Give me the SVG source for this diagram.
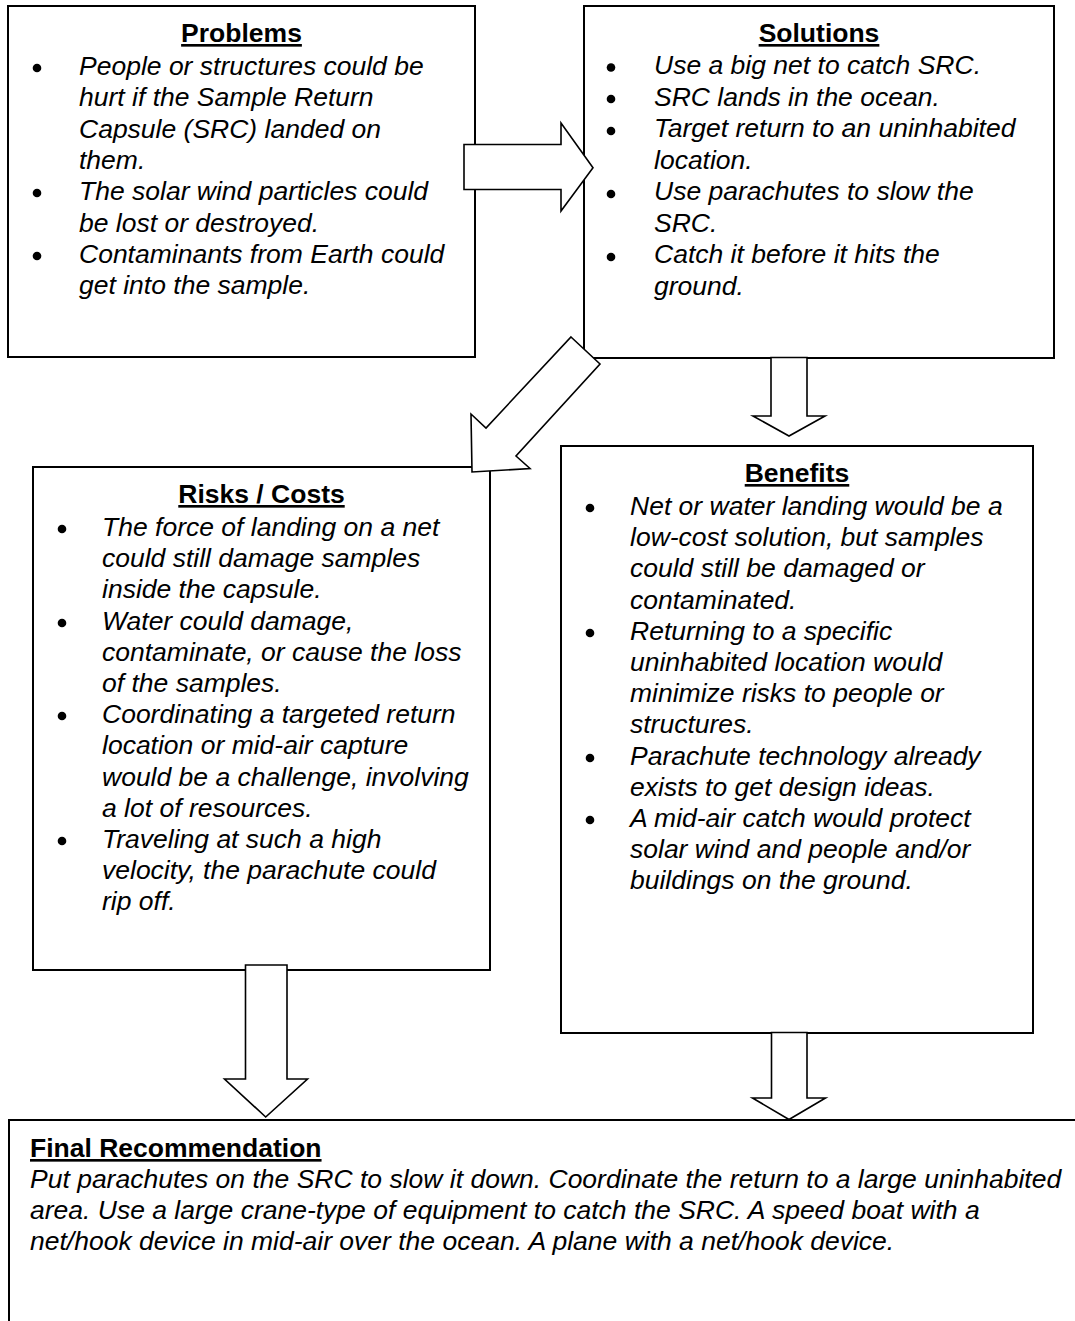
<svg xmlns="http://www.w3.org/2000/svg" width="1075" height="1321" viewBox="0 0 1075 1321">
<style>
.box{fill:#fff;stroke:#000;stroke-width:2}
.arr{fill:#fff;stroke:#000;stroke-width:1.6;stroke-linejoin:miter}
.t{font-family:"Liberation Sans",Arial,sans-serif;font-size:26.5px;font-style:italic;fill:#000}
.h{font-family:"Liberation Sans",Arial,sans-serif;font-size:26.5px;font-weight:bold;fill:#000;text-decoration:underline}
.c{text-anchor:middle}
.b{fill:#000}
</style>
<rect width="1075" height="1321" fill="#fff"/>
<g id="problems">
<rect class="box" x="8" y="6" width="467" height="351"/>
<text class="h c" x="241.5" y="42">Problems</text>
<circle class="b" cx="37" cy="68" r="4.3"/>
<circle class="b" cx="37" cy="193" r="4.3"/>
<circle class="b" cx="37" cy="256" r="4.3"/>
<text class="t" x="79" y="75">People or structures could be</text>
<text class="t" x="79" y="106.3">hurt if the Sample Return</text>
<text class="t" x="79" y="137.6">Capsule (SRC) landed on</text>
<text class="t" x="79" y="168.9">them.</text>
<text class="t" x="79" y="200.2">The solar wind particles could</text>
<text class="t" x="79" y="231.5">be lost or destroyed.</text>
<text class="t" x="79" y="262.8">Contaminants from Earth could</text>
<text class="t" x="79" y="294.1">get into the sample.</text>
</g>
<g id="solutions">
<rect class="box" x="584" y="6" width="470" height="352"/>
<text class="h c" x="819" y="42">Solutions</text>
<circle class="b" cx="611" cy="67.5" r="4.3"/>
<circle class="b" cx="611" cy="99" r="4.3"/>
<circle class="b" cx="611" cy="131" r="4.3"/>
<circle class="b" cx="611" cy="194" r="4.3"/>
<circle class="b" cx="611" cy="257" r="4.3"/>
<text class="t" x="654" y="74">Use a big net to catch SRC.</text>
<text class="t" x="654" y="105.5">SRC lands in the ocean.</text>
<text class="t" x="654" y="137">Target return to an uninhabited</text>
<text class="t" x="654" y="168.5">location.</text>
<text class="t" x="654" y="200">Use parachutes to slow the</text>
<text class="t" x="654" y="231.5">SRC.</text>
<text class="t" x="654" y="263">Catch it before it hits the</text>
<text class="t" x="654" y="294.5">ground.</text>
</g>
<g id="risks">
<rect class="box" x="33" y="467" width="457" height="503"/>
<text class="h c" x="261.5" y="503">Risks / Costs</text>
<circle class="b" cx="62" cy="529" r="4.3"/>
<circle class="b" cx="62" cy="623" r="4.3"/>
<circle class="b" cx="62" cy="716" r="4.3"/>
<circle class="b" cx="62" cy="841" r="4.3"/>
<text class="t" x="102" y="536">The force of landing on a net</text>
<text class="t" x="102" y="567.2">could still damage samples</text>
<text class="t" x="102" y="598.4">inside the capsule.</text>
<text class="t" x="102" y="629.6">Water could damage,</text>
<text class="t" x="102" y="660.8">contaminate, or cause the loss</text>
<text class="t" x="102" y="692">of the samples.</text>
<text class="t" x="102" y="723.2">Coordinating a targeted return</text>
<text class="t" x="102" y="754.4">location or mid-air capture</text>
<text class="t" x="102" y="785.6">would be a challenge, involving</text>
<text class="t" x="102" y="816.8">a lot of resources.</text>
<text class="t" x="102" y="848">Traveling at such a high</text>
<text class="t" x="102" y="879.2">velocity, the parachute could</text>
<text class="t" x="102" y="910.4">rip off.</text>
</g>
<g id="benefits">
<rect class="box" x="561" y="446" width="472" height="587"/>
<text class="h c" x="797" y="482">Benefits</text>
<circle class="b" cx="590" cy="508" r="4.3"/>
<circle class="b" cx="590" cy="633" r="4.3"/>
<circle class="b" cx="590" cy="758" r="4.3"/>
<circle class="b" cx="590" cy="820" r="4.3"/>
<text class="t" x="630" y="515">Net or water landing would be a</text>
<text class="t" x="630" y="546.2">low-cost solution, but samples</text>
<text class="t" x="630" y="577.4">could still be damaged or</text>
<text class="t" x="630" y="608.6">contaminated.</text>
<text class="t" x="630" y="639.8">Returning to a specific</text>
<text class="t" x="630" y="671">uninhabited location would</text>
<text class="t" x="630" y="702.2">minimize risks to people or</text>
<text class="t" x="630" y="733.4">structures.</text>
<text class="t" x="630" y="764.6">Parachute technology already</text>
<text class="t" x="630" y="795.8">exists to get design ideas.</text>
<text class="t" x="630" y="827">A mid-air catch would protect</text>
<text class="t" x="630" y="858.2">solar wind and people and/or</text>
<text class="t" x="630" y="889.4">buildings on the ground.</text>
</g>
<g id="final">
<rect class="box" x="9" y="1120" width="1080" height="260"/>
<text class="h" x="30" y="1157">Final Recommendation</text>
<text class="t" x="30" y="1188">Put parachutes on the SRC to slow it down. Coordinate the return to a large uninhabited</text>
<text class="t" x="30" y="1219">area. Use a large crane-type of equipment to catch the SRC. A speed boat with a</text>
<text class="t" x="30" y="1250">net/hook device in mid-air over the ocean. A plane with a net/hook device.</text>
</g>
<g id="connectors">
<polygon class="arr" points="464,144.5 561,144.5 561,123 593,167.7 561,211 561,189.5 464,189.5"/>
<polygon class="arr" points="571,337 600,364 516,456 530,468.5 472,472 471,414 486,428"/>
<polygon class="arr" points="771,357.5 807,357.5 807,416 825,416 789,436 753,416 771,416"/>
<polygon class="arr" points="245.5,965 287,965 287,1079 307.5,1079 265.7,1117 224.5,1079 245.5,1079"/>
<polygon class="arr" points="771.5,1032.5 807,1032.5 807,1098 825.5,1098 789,1119.5 752.5,1098 771.5,1098"/>
</g>
</svg>
